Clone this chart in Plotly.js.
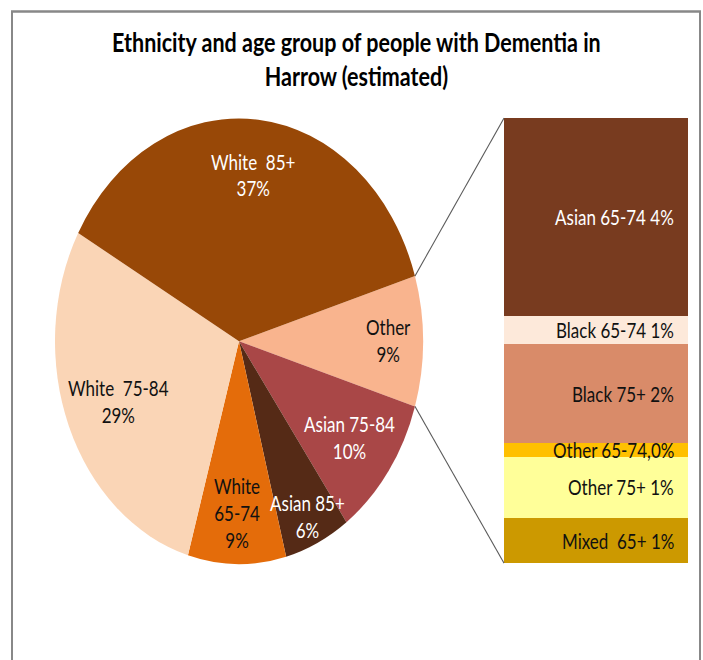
<!DOCTYPE html>
<html><head><meta charset="utf-8">
<script src="https://cdn.plot.ly/plotly-3.0.1.min.js"></script>
<style>
html,body{margin:0;padding:0;background:#fff;overflow:hidden;}
#wrap{width:703px;height:660px;overflow:hidden;background:#fff;}
#chart{width:703px;height:545px;transform:scaleY(1.211);transform-origin:0 0;}
</style></head><body><div id="wrap"><div id="chart"></div></div>
<script>
// ---- data ----
const pieLabels = ['Other', 'Asian 75-84', 'Asian 85+', 'White<br>65-74', 'White  75-84', 'White  85+'];
const pieValues = [9.45, 10.35, 5.8, 8.6, 28.6, 37.2];
const barLabels = ['Asian 65-74 ', 'Black 65-74 ', 'Black 75+ ', 'Other 65-74,', 'Other 75+ ', 'Mixed  65+ '];
const barValues = [4.2, 0.6, 2.1, 0.3, 1.3, 0.95];
const titleText = 'Ethnicity and age group of people with Dementia in<br>Harrow (estimated)';

// ---- styles ----
const pieColors = ['#F9B48E', '#A94747', '#552A16', '#E46C0A', '#FAD5B6', '#984807'];
const pieTextColors = ['#111111', '#ffffff', '#ffffff', '#111111', '#111111', '#ffffff'];
const pieLabelRadius = [0.81, 0.74, 0.87, 0.77, 0.71, 0.75];
const barColors = ['#783B1F', '#FDE9DA', '#D98B69', '#FFC000', '#FFFF99', '#CC9900'];
const barTextColors = ['#ffffff', '#111111', '#111111', '#111111', '#111111', '#111111'];
const FONT = 'Lato, "Open Sans", sans-serif';

const W = 703, H = 545;
const PIE = {cx: 239, cy: 281.8, r: 184};
const BAR = {x0: 504, x1: 688, top: 97.5, bottom: 465, textRight: 676};

const pieTotal = pieValues.reduce((a, b) => a + b, 0);
const barTotal = barValues.reduce((a, b) => a + b, 0);
const otherHalf = pieValues[0] / pieTotal * 180; // degrees

const traces = [];
traces.push({
  type: 'pie', labels: pieLabels, values: pieValues, sort: false,
  direction: 'clockwise', rotation: 90 - otherHalf,
  marker: {colors: pieColors, line: {width: 0}},
  textinfo: 'none', hoverinfo: 'none',
  domain: {x: [(PIE.cx - PIE.r) / W, (PIE.cx + PIE.r) / W],
           y: [1 - (PIE.cy + PIE.r) / H, 1 - (PIE.cy - PIE.r) / H]}
});
// stacked bar: bottom segment first
for (let i = barValues.length - 1; i >= 0; i--) {
  traces.push({type: 'bar', x: [0], y: [barValues[i]], width: 1,
    marker: {color: barColors[i], line: {width: 0}}, hoverinfo: 'none', xaxis: 'x', yaxis: 'y'});
}

const annotations = [];
// pie labels
let cum = 0;
pieValues.forEach((v, i) => {
  const frac = v / pieTotal;
  const mid = (-otherHalf + (cum + frac / 2) * 360) * Math.PI / 180;
  cum += frac;
  const px = PIE.cx + PIE.r * pieLabelRadius[i] * Math.cos(mid);
  const py = PIE.cy + PIE.r * pieLabelRadius[i] * Math.sin(mid);
  annotations.push({xref: 'paper', yref: 'paper', x: px / W, y: 1 - py / H,
    xanchor: 'center', yanchor: 'middle', showarrow: false, align: 'center',
    text: pieLabels[i] + '<br>' + Math.round(frac * 100) + '%',
    font: {family: FONT, size: 17, color: pieTextColors[i]}});
});
// bar labels
let base = 0;
for (let i = barValues.length - 1; i >= 0; i--) {
  const mid = base + barValues[i] / 2;
  base += barValues[i];
  annotations.push({xref: 'paper', yref: 'y', x: BAR.textRight / W, y: mid,
    xanchor: 'right', yanchor: 'middle', showarrow: false,
    text: barLabels[i] + Math.round(barValues[i] / pieTotal * 100) + '%',
    font: {family: FONT, size: 17, color: barTextColors[i]}});
}

// connector lines from the "Other" slice edges to the bar
const h = otherHalf * Math.PI / 180;
const sx = (PIE.cx + PIE.r * Math.cos(h)) / W;
const shapes = [
  {type: 'line', xref: 'paper', yref: 'paper', x0: sx, y0: 1 - (PIE.cy - PIE.r * Math.sin(h)) / H,
   x1: BAR.x0 / W, y1: 1 - BAR.top / H, line: {color: '#595959', width: 1}},
  {type: 'line', xref: 'paper', yref: 'paper', x0: sx, y0: 1 - (PIE.cy + PIE.r * Math.sin(h)) / H,
   x1: BAR.x0 / W, y1: 1 - BAR.bottom / H, line: {color: '#595959', width: 1}},
  {type: 'rect', xref: 'paper', yref: 'paper', x0: 12 / W, x1: 700 / W, y0: -0.2, y1: 1 - 9.5 / H,
   line: {color: '#888888', width: 2}, fillcolor: 'rgba(0,0,0,0)', layer: 'below'}
];

const layout = {
  width: W, height: H, margin: {l: 0, r: 0, t: 0, b: 0},
  paper_bgcolor: '#ffffff', plot_bgcolor: 'rgba(0,0,0,0)', showlegend: false,
  title: {text: '<b>' + titleText + '</b>', x: 0.507, xanchor: 'center', xref: 'paper',
          y: 1 - 43 / H, yanchor: 'top', yref: 'paper',
          font: {family: FONT, size: 21.5, color: '#000000'}},
  barmode: 'stack', bargap: 0,
  xaxis: {domain: [BAR.x0 / W, BAR.x1 / W], range: [-0.5, 0.5], visible: false, fixedrange: true},
  yaxis: {domain: [1 - BAR.bottom / H, 1 - BAR.top / H], range: [0, barTotal], visible: false, fixedrange: true},
  annotations: annotations, shapes: shapes
};
Plotly.newPlot('chart', traces, layout, {displayModeBar: false, staticPlot: true});
</script></body></html>
